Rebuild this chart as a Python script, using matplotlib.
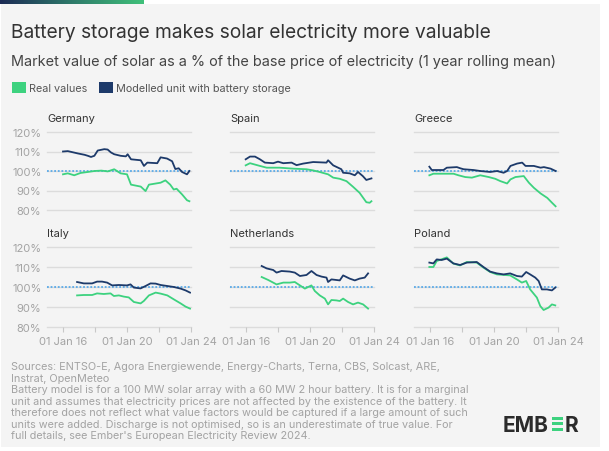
import numpy as np
import matplotlib
matplotlib.use("Agg")
import matplotlib.pyplot as plt
from matplotlib.patches import Rectangle
from matplotlib.colors import LinearSegmentedColormap

plt.rcParams['font.family'] = ['Inter', 'DejaVu Sans']

W, H = 609, 452

# ---- data (decimal years, % of base price) ----
de_yr_m = [2016.0, 2016.3, 2016.93, 2017.35, 2017.55, 2017.75, 2017.96, 2018.17, 2018.58, 2018.79, 2019.0,
           2019.2, 2019.6, 2019.93, 2020.04, 2020.25, 2020.86, 2021.06, 2021.27, 2021.89, 2022.1, 2022.5,
           2022.82, 2023.02, 2023.23, 2023.44, 2023.75, 2023.9]
de_mod = [110, 110.2, 109, 108.3, 107.8, 107.2, 107.8, 110.5, 111.2, 111, 109.5,
          108.6, 107.8, 107.5, 108.6, 106, 105.5, 102.6, 104.3, 104, 107, 106.4,
          105, 101, 101.4, 99.5, 98.3, 100]
de_yr_r = [2016.0, 2016.3, 2016.7, 2017.1, 2017.55, 2017.96, 2018.4, 2018.8, 2019.2, 2019.6, 2020.0, 2020.25,
           2020.86, 2021.16, 2021.37, 2022.1, 2022.4, 2022.7, 2022.92, 2023.1, 2023.44, 2023.75, 2023.9]
de_real = [98.3, 98.8, 97.8, 99, 99.5, 100, 100.2, 99.8, 100.9, 98.8, 98.3, 93,
           92, 89.7, 93, 94, 95.2, 93, 90.5, 90.9, 88, 85, 84.5]

es_yr_m = [2015.98, 2016.25, 2016.56, 2016.87, 2017.18, 2017.7, 2018.0, 2018.33, 2018.85, 2019.16, 2019.57,
           2020.2, 2021.03, 2021.13, 2021.45, 2021.96, 2022.07, 2022.48, 2022.8, 2023.0, 2023.3, 2023.52, 2023.84]
es_mod = [106, 107.4, 107.4, 106, 104.3, 104, 104.8, 104, 104.3, 103, 103.8,
          104.6, 104.3, 105.5, 102.9, 100.9, 99.1, 98.8, 97.8, 99.5, 97.4, 95.4, 96.2]
es_yr_r = [2015.98, 2016.25, 2016.87, 2017.29, 2018.1, 2018.95, 2019.78, 2020.2, 2020.6, 2021.13, 2021.45,
           2021.86, 2022.28, 2022.69, 2023.1, 2023.52, 2023.73, 2023.84]
es_real = [102.9, 104, 102.6, 101.7, 101.7, 101.2, 100.9, 100.3, 99.5, 98.3, 96.6,
           96, 94.8, 91.9, 88.8, 84, 83.7, 84.5]

gr_yr_m = [2015.96, 2016.11, 2016.42, 2016.84, 2017.05, 2017.68, 2017.89, 2018.1, 2018.72, 2019.14, 2019.77,
           2020.19, 2020.6, 2020.82, 2021.03, 2021.44, 2021.76, 2021.97, 2022.49, 2022.91, 2023.12, 2023.54, 2023.85]
gr_mod = [102.2, 100.5, 100.5, 100.5, 101.7, 102, 101.4, 100.9, 100.5, 100, 99.5,
          100, 99.1, 100, 102.6, 103.8, 104.3, 102.6, 102.6, 101.7, 102, 101.2, 100]
gr_yr_r = [2015.96, 2016.21, 2016.84, 2017.47, 2017.78, 2018.2, 2018.62, 2019.14, 2019.67, 2020.08, 2020.4,
           2020.82, 2021.03, 2021.34, 2021.86, 2022.18, 2022.49, 2022.91, 2023.33, 2023.64, 2023.85]
gr_real = [97.8, 98.6, 98.6, 98.6, 97.8, 96.9, 96.6, 97.8, 96.9, 96, 94.8,
           93.6, 95.7, 96.9, 97.4, 94, 91.4, 88.5, 86.2, 83.6, 81.9]

it_yr_m = [2016.88, 2017.3, 2017.82, 2018.13, 2018.44, 2018.76, 2019.07, 2019.49, 2020.0, 2020.22, 2020.43,
           2020.85, 2021.16, 2021.47, 2021.79, 2022.1, 2022.52, 2022.93, 2023.35, 2023.66, 2023.94]
it_mod = [102.5, 101.8, 101.8, 102.7, 102.7, 102.2, 100.8, 101, 100.8, 101.3, 99.7,
          99.3, 100.5, 101.8, 101.7, 101, 100.5, 100, 99.2, 98.3, 97.2]
it_yr_r = [2016.88, 2017.3, 2017.82, 2018.13, 2018.55, 2018.97, 2019.18, 2019.49, 2019.8, 2020.11, 2020.43,
           2020.85, 2021.05, 2021.37, 2021.79, 2022.1, 2022.52, 2022.93, 2023.35, 2023.66, 2023.94]
it_real = [95.8, 96, 96, 96.8, 96.5, 96.8, 95.5, 95.8, 95.2, 94.8, 92.5,
           91.8, 93, 95.8, 97.2, 96.7, 95.8, 93.8, 91.8, 90.2, 89.2]

nl_yr_m = [2016.98, 2017.29, 2017.7, 2017.91, 2018.22, 2018.74, 2019.05, 2019.37, 2019.78, 2020.09, 2020.41,
           2020.72, 2021.03, 2021.13, 2021.34, 2021.86, 2022.07, 2022.48, 2022.8, 2023.1, 2023.42, 2023.63]
nl_mod = [110.5, 109.3, 108.5, 107.2, 108, 107.7, 107.2, 105.5, 106, 108, 106,
          105.2, 104.7, 102.5, 103.8, 103.3, 105.8, 104.2, 103.3, 104.2, 104.7, 106.8]
nl_yr_r = [2016.98, 2017.39, 2017.91, 2018.33, 2018.74, 2019.05, 2019.37, 2019.68, 2020.09, 2020.3, 2020.61,
           2020.93, 2021.13, 2021.34, 2021.65, 2021.86, 2022.07, 2022.38, 2022.69, 2023.0, 2023.32, 2023.63]
nl_real = [105, 103.5, 101.3, 102.2, 102.2, 102.5, 100.8, 99.2, 100.8, 98, 95.8,
           94.2, 91.3, 93.5, 93.3, 93, 94.2, 92.5, 91.3, 92.2, 91.3, 89.2]

pl_yr_m = [2015.96, 2016.21, 2016.42, 2016.73, 2017.05, 2017.46, 2017.88, 2018.3, 2018.92, 2019.34, 2019.76,
           2020.18, 2020.6, 2021.01, 2021.43, 2021.74, 2022.01, 2022.26, 2022.58, 2022.79, 2022.99, 2023.31,
           2023.62, 2023.83]
pl_mod = [112.2, 111.8, 113.8, 113.5, 114.2, 111.8, 111, 112.2, 112.5, 110, 107.7,
          106.8, 106.3, 106.8, 105.5, 105.2, 107.5, 106.3, 104.7, 103, 98.8, 98.8,
          98.3, 99.7]
pl_yr_r = [2015.96, 2016.21, 2016.42, 2017.05, 2017.46, 2017.88, 2018.3, 2018.92, 2019.34, 2019.76, 2020.18,
           2021.01, 2021.43, 2021.74, 2022.01, 2022.26, 2022.68, 2022.89, 2023.1, 2023.41, 2023.62, 2023.83]
pl_real = [110, 110, 113, 114.8, 111.7, 110.8, 112.5, 112.2, 109.7, 107.5, 106.3,
           105.8, 103.8, 102.2, 103, 98.8, 94.7, 90.5, 88.5, 89.7, 91.3, 90.8]

countries = ["Germany", "Spain", "Greece", "Italy", "Netherlands", "Poland"]
series = [(de_yr_r, de_real, de_yr_m, de_mod), (es_yr_r, es_real, es_yr_m, es_mod),
          (gr_yr_r, gr_real, gr_yr_m, gr_mod), (it_yr_r, it_real, it_yr_m, it_mod),
          (nl_yr_r, nl_real, nl_yr_m, nl_mod), (pl_yr_r, pl_real, pl_yr_m, pl_mod)]

yticks = [80, 90, 100, 110, 120]
ytick_labels = ["80%", "90%", "100%", "110%", "120%"]
xticks = [2016, 2018, 2020, 2022, 2024]
xtick_labels = ["01 Jan 16", "", "01 Jan 20", "", "01 Jan 24"]

GREEN = "#3dd27f"
NAVY = "#1d3a6a"
GREY_TXT = "#a3a3a3"
BG = "#f4f4f4"

fig = plt.figure(figsize=(W / 100, H / 100), dpi=100)
fig.patch.set_facecolor("white")


def fx(x):
    return x / W


def fy(y):
    return 1 - y / H


fig.patches.append(Rectangle((fx(1), fy(448)), fx(599), (448 - 5) / H, transform=fig.transFigure,
                             facecolor=BG, edgecolor="none", zorder=-5))

# gradient bar on top
gax = fig.add_axes([0, fy(5), fx(144), 4 / H])
cmap = LinearSegmentedColormap.from_list("g", ["#1c2b55", "#2e7a6a", "#40c07a"])
gax.imshow(np.linspace(0, 1, 200).reshape(1, -1), aspect="auto", cmap=cmap)
gax.axis("off")

fig.text(fx(11), fy(33), "Battery storage makes solar electricity more valuable", fontsize=13.8,
         color="#333333", va="center", ha="left")
fig.text(fx(11), fy(62), "Market value of solar as a % of the base price of electricity (1 year rolling mean)",
         fontsize=10.4, color="#444444", va="center", ha="left")

# legend
fig.patches.append(Rectangle((fx(12), fy(94)), fx(14), 11 / H, transform=fig.transFigure,
                             facecolor=GREEN, edgecolor="none"))
fig.text(fx(29), fy(88.5), "Real values", fontsize=7.8, color="#555555", va="center")
fig.patches.append(Rectangle((fx(99), fy(94)), fx(14), 11 / H, transform=fig.transFigure,
                             facecolor=NAVY, edgecolor="none"))
fig.text(fx(116), fy(88.5), "Modelled unit with battery storage", fontsize=7.8, color="#555555", va="center")

lefts = [47, 230, 414]
rows = [(133, 211), (248, 328)]
for i, name in enumerate(countries):
    r, c = divmod(i, 3)
    top, bot = rows[r]
    ax = fig.add_axes([fx(lefts[c]), fy(bot), fx(144), (bot - top) / H])
    ax.set_zorder(5)
    ax.patch.set_visible(False)
    for s in ax.spines.values():
        s.set_visible(False)
    ax.set_xlim(2015, 2024)
    ax.set_ylim(80, 120)
    for yv in yticks:
        ax.axhline(yv, color="#dcdcdc", lw=1.0, zorder=1, clip_on=False)
    ax.axhline(100, color="#5aaae8", lw=1.3, ls=(0, (1, 1)), zorder=2, clip_on=False)
    yr_r, real, yr_m, mod = series[i]
    ax.plot(yr_r, real, color=GREEN, lw=1.3, zorder=3)
    ax.plot(yr_m, mod, color=NAVY, lw=1.3, zorder=4)
    ax.set_yticks(yticks)
    if c == 0:
        ax.set_yticklabels(ytick_labels)
    else:
        ax.set_yticklabels([])
    ax.tick_params(axis="y", length=0, pad=4, labelsize=8, labelcolor=GREY_TXT)
    ax.set_xticks(xticks)
    if r == 1:
        ax.set_xticklabels(xtick_labels)
        ax.tick_params(axis="x", length=3.5, width=0.8, color="#c8c8c8", pad=3, labelsize=8,
                       labelcolor=GREY_TXT)
    else:
        ax.set_xticklabels([])
        ax.tick_params(axis="x", length=0)
    fig.text(fx(lefts[c]), fy(top - 14), name, fontsize=8, color="#333333", va="center", ha="left")

footer = ("Sources: ENTSO-E, Agora Energiewende, Energy-Charts, Terna, CBS, Solcast, ARE,\n"
          "Instrat, OpenMeteo\n"
          "Battery model is for a 100 MW solar array with a 60 MW 2 hour battery. It is for a marginal\n"
          "unit and assumes that electricity prices are not affected by the existence of the battery. It\n"
          "therefore does not reflect what value factors would be captured if a large amount of such\n"
          "units were added. Discharge is not optimised, so is an underestimate of true value. For\n"
          "full details, see Ember's European Electricity Review 2024.")
fig.text(fx(11), fy(362), footer, fontsize=7.8, color=GREY_TXT, va="top", ha="left", linespacing=1.19)

# logo
fig.text(fx(503), fy(426), "EMB", fontsize=15, fontweight="bold", color="#2b2b2b", va="center", ha="left")
for k in range(3):
    fig.patches.append(Rectangle((fx(552), fy(420.5 + k * 5.6)), fx(11), 3 / H, transform=fig.transFigure,
                                 facecolor=GREEN, edgecolor="none"))
fig.text(fx(565), fy(426), "R", fontsize=15, fontweight="bold", color="#2b2b2b", va="center", ha="left")

fig.savefig("out.png", dpi=100, facecolor="white")
